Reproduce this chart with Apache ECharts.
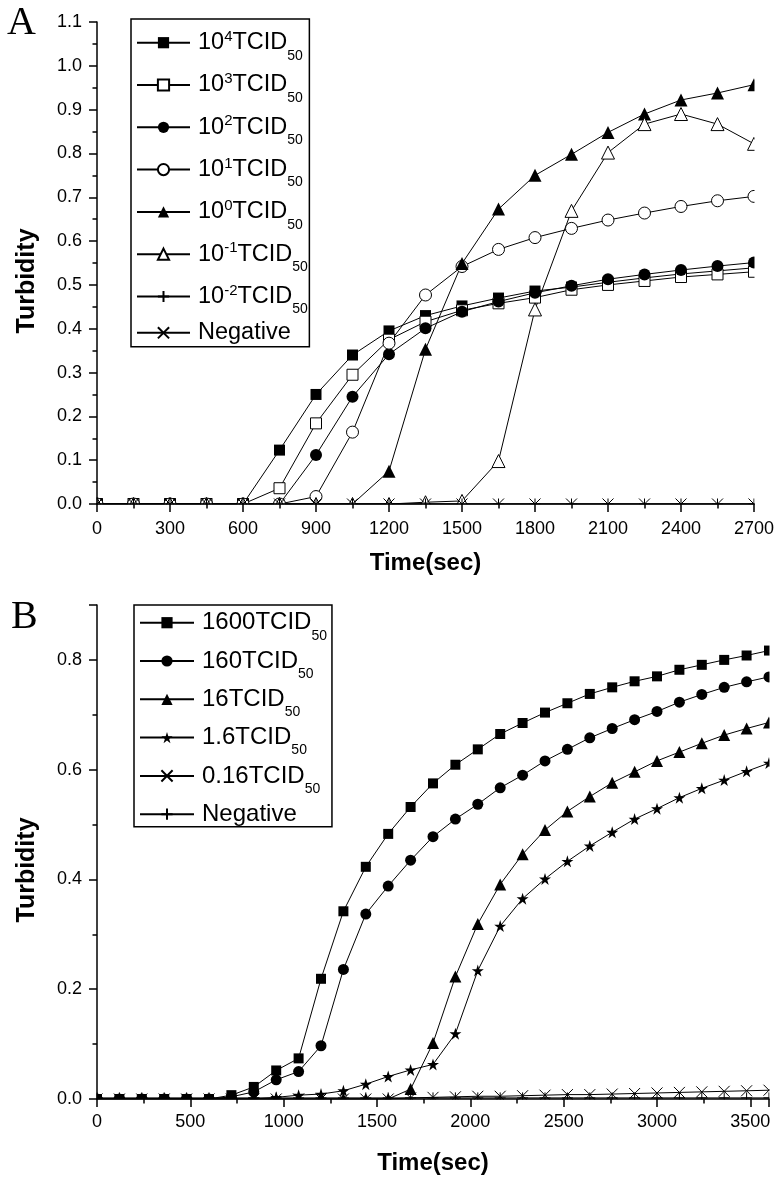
<!DOCTYPE html>
<html><head><meta charset="utf-8">
<script src="https://cdn.jsdelivr.net/npm/echarts@6/dist/echarts.min.js"></script>
<style>html,body{margin:0;padding:0;background:#fff}#c{width:782px;height:1186px}</style>
</head><body><div id="c"></div>
<script>
// ---------- Panel A data (time in s, turbidity) ----------
const timeA = [0,150,300,450,600,750,900,1050,1200,1350,1500,1650,1800,1950,2100,2250,2400,2550,2700];
const a_1e4  = [0,0,0,0,0,0.123,0.250,0.340,0.395,0.430,0.452,0.470,0.486,0.495,0.506,0.516,0.525,0.532,0.539];
const a_1e3  = [0,0,0,0,0,0.036,0.184,0.295,0.375,0.416,0.442,0.458,0.471,0.489,0.500,0.509,0.518,0.524,0.530];
const a_1e2  = [0,0,0,0,0,0,0.112,0.245,0.342,0.401,0.439,0.462,0.482,0.498,0.513,0.524,0.534,0.543,0.551];
const a_1e1  = [0,0,0,0,0,0,0.017,0.164,0.367,0.477,0.542,0.581,0.608,0.629,0.648,0.664,0.679,0.692,0.702];
const a_1e0  = [0,0,0,0,0,0,0,0,0.075,0.353,0.549,0.673,0.750,0.798,0.848,0.890,0.922,0.938,0.957];
const a_1em1 = [0,0,0,0,0,0,0,0,0,0.004,0.007,0.098,0.444,0.669,0.802,0.867,0.890,0.867,0.822];
const a_1em2 = [0,0,0,0,0,0,0,0,0,0,0,0,0,0,0,0,0,0,0];
const a_neg  = [0,0,0,0,0,0,0,0,0,0,0,0,0,0,0,0,0,0,0];
const namesA = ['10^4','10^3','10^2','10^1','10^0','10^-1','10^-2','Negative'];

// ---------- Panel B data ----------
const timeB = [0,120,240,360,480,600,720,840,960,1080,1200,1320,1440,1560,1680,1800,1920,2040,2160,2280,2400,2520,2640,2760,2880,3000,3120,3240,3360,3480,3600];
const b_1600 = [0,0,0,0,0,0,0.007,0.022,0.052,0.074,0.219,0.342,0.423,0.483,0.532,0.575,0.609,0.637,0.665,0.685,0.704,0.721,0.738,0.750,0.761,0.770,0.782,0.791,0.800,0.808,0.817];
const b_160  = [0,0,0,0,0,0,0.004,0.013,0.035,0.050,0.097,0.236,0.337,0.388,0.435,0.478,0.510,0.537,0.567,0.590,0.616,0.637,0.658,0.675,0.691,0.706,0.723,0.737,0.750,0.760,0.769];
const b_16   = [0,0,0,0,0,0,0,0,0,0,0,0,0,0,0.018,0.102,0.223,0.319,0.391,0.446,0.490,0.524,0.551,0.576,0.596,0.616,0.632,0.648,0.663,0.675,0.686];
const b_1p6  = [0,0,0,0,0,0,0,0,0.003,0.007,0.009,0.015,0.027,0.041,0.053,0.063,0.119,0.234,0.315,0.365,0.401,0.433,0.461,0.486,0.510,0.529,0.549,0.566,0.581,0.597,0.612];
const b_0p16 = [0,0,0,0,0,0,0,0,0,0,0,0,0,0,0.002,0.003,0.004,0.005,0.005,0.006,0.007,0.008,0.008,0.009,0.010,0.011,0.012,0.013,0.014,0.015,0.016];
const b_neg  = [0.002,0.002,0.002,0.002,0.002,0.002,0.002,0.002,0.002,0.002,0.002,0.002,0.002,0.002,0.002,0.002,0.002,0.002,0.002,0.002,0.002,0.002,0.002,0.002,0.002,0.002,0.002,0.002,0.002,0.002,0.002];
const namesB = ['1600','160','16','1.6','0.16','Negative (B)'];

// ---------- axis ticks ----------
const xTickA = {min:0, max:2700, interval:300};
const yTickA = {min:0, max:1.1, interval:0.1};
const xTickB = {min:0, max:3600, interval:500};
const yTickB = {min:0, max:0.9, interval:0.2};

const SYM_PLUS = 'path://M5,0L5,10M0,5L10,5';
const SYM_X = 'path://M0,0L10,10M10,0L0,10';
const SYM_STAR = 'path://M50,0L61.2,34.5L97.6,34.5L68.2,55.9L79.4,90.5L50,69.1L20.6,90.5L31.8,55.9L2.4,34.5L38.8,34.5Z';
const FONT = '"Liberation Sans", Arial, sans-serif';

function pts(t, v) { return t.map((x, i) => [x, v[i]]); }
function mk(name, idx, t, v, symbol, size, filled) {
  return {
    type: 'line', name: name, xAxisIndex: idx, yAxisIndex: idx,
    data: pts(t, v), symbol: symbol, symbolSize: size, showSymbol: true,
    clip: false, animation: false, silent: true,
    lineStyle: {color: '#000', width: 1},
    itemStyle: {color: filled ? '#000' : '#fff', borderColor: '#000', borderWidth: filled ? 0 : 1},
    emphasis: {disabled: true}, z: 2
  };
}

function axisX(idx, tk, margin, gap) {
  return {
    type: 'value', gridIndex: idx, min: tk.min, max: tk.max, interval: tk.interval, z: 10,
    name: 'Time(sec)', nameLocation: 'middle', nameGap: gap, nameMoveOverlap: false,
    nameTextStyle: {fontFamily: FONT, fontWeight: 'bold', fontSize: 24, color: '#000'},
    axisLine: {lineStyle: {color: '#000', width: 1.5}},
    axisTick: {inside: false, length: 8, lineStyle: {color: '#000', width: 1.5}},
    minorTick: {show: true, splitNumber: 2, length: 4.5, lineStyle: {color: '#000', width: 1.5}},
    splitLine: {show: false},
    axisLabel: {fontFamily: FONT, fontSize: 18, color: '#000', margin: margin, showMaxLabel: idx === 0,
      formatter: v => String(v)}
  };
}
function axisY(idx, tk) {
  return {
    type: 'value', gridIndex: idx, min: tk.min, max: tk.max, interval: tk.interval, z: 10,
    name: 'Turbidity', nameLocation: 'middle', nameGap: 57,
    nameTextStyle: {fontFamily: FONT, fontWeight: 'bold', fontSize: 25, color: '#000', padding: [0, 36, 0, 0]},
    axisLine: {show: true, lineStyle: {color: '#000', width: 1.5}},
    axisTick: {show: true, inside: false, length: 8, lineStyle: {color: '#000', width: 1.5}},
    minorTick: {show: true, splitNumber: 2, length: 4.5, lineStyle: {color: '#000', width: 1.5}},
    splitLine: {show: false},
    axisLabel: {fontFamily: FONT, fontSize: 18, color: '#000', margin: 15, showMaxLabel: idx === 0,
      formatter: v => v.toFixed(1)}
  };
}

function legendFmtA(name) {
  if (name === 'Negative') return '{n|Negative}';
  const e = name.slice(3);
  return '{f|10}{sup|' + e + '}{m|TCID}{sub|50}';
}
function legendFmtB(name) {
  if (name.indexOf('Negative') === 0) return '{n|Negative}';
  return '{f|' + name + 'TCID}{sub|50}';
}

const option = {
  backgroundColor: '#fff',
  animation: false,
  grid: [
    {left: 97, top: 22, width: 657, height: 482, containLabel: false},
    {left: 97, top: 605, width: 672, height: 494, containLabel: false}
  ],
  xAxis: [axisX(0, xTickA, 16, 47), axisX(1, xTickB, 14, 52)],
  yAxis: [axisY(0, yTickA), axisY(1, yTickB)],
  legend: [
    {
      orient: 'vertical', left: 131, top: 19, data: namesA, selectedMode: false,
      itemWidth: 53, itemHeight: 14, itemGap: 2.3, padding: [3.7, 1.5, 0, 5],
      borderColor: '#000', borderWidth: 1.5, backgroundColor: '#fff', z: 6,
      formatter: legendFmtA,
      textStyle: {color: '#000', rich: {
        f: {fontFamily: FONT, fontSize: 23.5, lineHeight: 36, color: '#000', padding: [0, 0, 0, 3]},
        m: {fontFamily: FONT, fontSize: 23.5, lineHeight: 36, color: '#000'},
        sup: {fontFamily: FONT, fontSize: 15, lineHeight: 36, color: '#000', padding: [6.5, 0, 18.5, 0]},
        sub: {fontFamily: FONT, fontSize: 14, lineHeight: 36, color: '#000', padding: [13, 0, -13, 0]},
        n: {fontFamily: FONT, fontSize: 23.5, lineHeight: 36, color: '#000', padding: [2, 0, 2, 3]}
      }}
    },
    {
      orient: 'vertical', left: 134, top: 605, data: namesB, selectedMode: false,
      itemWidth: 54, itemHeight: 14, itemGap: 6.3, padding: [5.7, 5, 0.5, 5],
      borderColor: '#000', borderWidth: 1.5, backgroundColor: '#fff', z: 6,
      formatter: legendFmtB,
      textStyle: {color: '#000', rich: {
        f: {fontFamily: FONT, fontSize: 24, lineHeight: 34, color: '#000', padding: [0, 0, 0, 3]},
        sub: {fontFamily: FONT, fontSize: 14, lineHeight: 34, color: '#000', padding: [13, 0, -13, 0]},
        n: {fontFamily: FONT, fontSize: 24, lineHeight: 34, color: '#000', padding: [0, 0, 0, 3]}
      }}
    }
  ],
  graphic: [
    // visual clipping of markers at the plot edges (as in the original figure)
    {type: 'rect', shape: {x: 0, y: 504.5, width: 782, height: 95}, style: {fill: '#fff'}, z: 5, silent: true},
    {type: 'rect', shape: {x: 0, y: 0, width: 96.5, height: 505}, style: {fill: '#fff'}, z: 5, silent: true},
    {type: 'rect', shape: {x: 754.5, y: 0, width: 30, height: 505}, style: {fill: '#fff'}, z: 5, silent: true},
    {type: 'rect', shape: {x: 0, y: 1099.5, width: 782, height: 90}, style: {fill: '#fff'}, z: 5, silent: true},
    {type: 'rect', shape: {x: 0, y: 590, width: 96.5, height: 510}, style: {fill: '#fff'}, z: 5, silent: true},
    {type: 'rect', shape: {x: 769.5, y: 590, width: 15, height: 510}, style: {fill: '#fff'}, z: 5, silent: true},
    {type: 'text', x: 7, y: 3, z: 20, style: {text: 'A', font: '40px "Liberation Serif", serif', fill: '#000'}},
    {type: 'text', x: 11, y: 597, z: 20, style: {text: 'B', font: '40px "Liberation Serif", serif', fill: '#000'}}
  ],
  series: [
    mk(namesA[0], 0, timeA, a_1e4, 'rect', 11, true),
    mk(namesA[1], 0, timeA, a_1e3, 'rect', 11, false),
    mk(namesA[2], 0, timeA, a_1e2, 'circle', 12, true),
    mk(namesA[3], 0, timeA, a_1e1, 'circle', 12, false),
    mk(namesA[4], 0, timeA, a_1e0, 'triangle', 13, true),
    mk(namesA[5], 0, timeA, a_1em1, 'triangle', 13, false),
    mk(namesA[6], 0, timeA, a_1em2, SYM_PLUS, 11, false),
    mk(namesA[7], 0, timeA, a_neg, SYM_X, 11, false),
    mk(namesB[0], 1, timeB, b_1600, 'rect', 10, true),
    mk(namesB[1], 1, timeB, b_160, 'circle', 11, true),
    mk(namesB[2], 1, timeB, b_16, 'triangle', 12, true),
    mk(namesB[3], 1, timeB, b_1p6, SYM_STAR, 12, true),
    mk(namesB[4], 1, timeB, b_0p16, SYM_X, 11, false),
    mk(namesB[5], 1, timeB, b_neg, SYM_PLUS, 11, false)
  ]
};
const chart = echarts.init(document.getElementById('c'), null, {renderer: 'canvas'});
chart.setOption(option);
</script>
</body></html>
